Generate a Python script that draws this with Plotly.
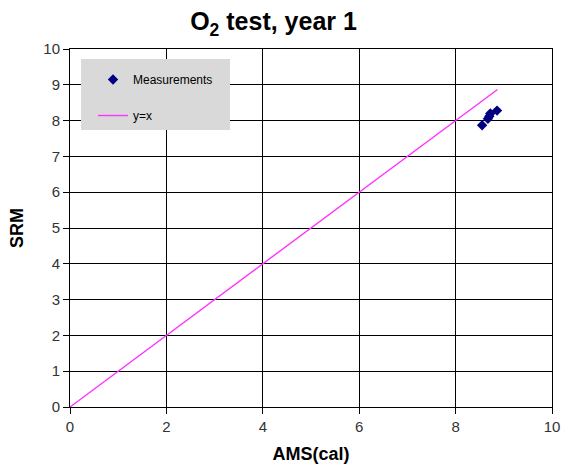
import plotly.graph_objects as go

ams = [8.55, 8.67, 8.70, 8.72, 8.86]
srm = [7.87, 8.05, 8.12, 8.20, 8.28]
line_x = [0, 8.87]
line_y = [0, 8.87]

FONT = "Liberation Sans, Arial"

fig = go.Figure()
fig.add_trace(go.Scatter(x=ams, y=srm, mode="markers", name="Measurements",
                         legendgroup="a",
                         marker=dict(symbol="diamond", color="#000080", size=8)))
fig.add_trace(go.Scatter(x=line_x, y=line_y, mode="lines", name="y=x",
                         legendgroup="b",
                         line=dict(color="#ff33ff", width=1.4)))

axis_common = dict(range=[0, 10], dtick=2, showgrid=True, gridcolor="black", gridwidth=1,
                   showline=True, linecolor="black", linewidth=1, mirror=True,
                   ticks="outside", ticklen=6, tickcolor="black",
                   tickfont=dict(family=FONT, size=15, color="#333"),
                   zeroline=False, automargin=False)
fig.update_xaxes(**axis_common,
                 title=dict(text="<b>AMS(cal)</b>", font=dict(family=FONT, size=18, color="black")))
fig.update_yaxes(**{**axis_common, "dtick": 1},
                 title=dict(text="<b>SRM</b>", font=dict(family=FONT, size=18, color="black")))

def px_x(p):
    return (p - 70) / 482
def px_y(p):
    return (407 - p) / 358

fig.add_shape(type="rect", xref="paper", yref="paper",
              x0=px_x(81), x1=px_x(230), y0=px_y(130), y1=px_y(59),
              fillcolor="#d9d9d9", line=dict(width=0), layer="above")

fig.update_layout(
    width=564, height=464,
    margin=dict(l=70, r=12, t=49, b=57),
    plot_bgcolor="white", paper_bgcolor="white",
    title=dict(text="<b>O<sub>2</sub> test, year 1</b>", x=0.485, xanchor="center", y=0.972, yanchor="top",
               font=dict(family=FONT, size=25, color="black")),
    legend=dict(x=px_x(93), y=px_y(65), xanchor="left", yanchor="top",
                bgcolor="rgba(0,0,0,0)", borderwidth=0,
                font=dict(family=FONT, size=12, color="black"),
                tracegroupgap=17),
    showlegend=True,
)

fig.write_html("out.html", config={"displayModeBar": False},
               post_script="document.body.style.margin='0px';")
